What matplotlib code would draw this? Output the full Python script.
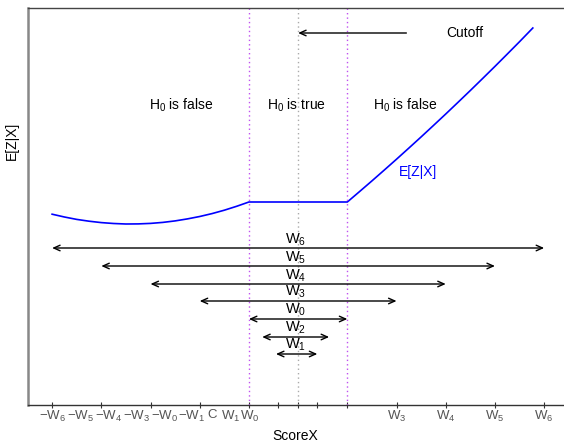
import matplotlib
matplotlib.use("Agg")
import matplotlib.pyplot as plt

plt.rcParams['font.family'] = ['Liberation Sans', 'DejaVu Sans']
plt.rcParams['mathtext.fontset'] = 'custom'
plt.rcParams['mathtext.rm'] = 'Liberation Sans'
plt.rcParams['mathtext.it'] = 'Liberation Sans'
plt.rcParams['mathtext.default'] = 'regular'

# E[Z|X] curve
curve_x = [-5.0, -4.75, -4.5, -4.25, -4.0, -3.75, -3.5, -3.25, -3.0, -2.75,
           -2.5, -2.25, -2.0, -1.75, -1.5, -1.25, -1.0,
           1.0, 1.25, 1.5, 1.75, 2.0, 2.25, 2.5, 2.75, 3.0, 3.25, 3.5,
           3.75, 4.0, 4.25, 4.5, 4.77]
curve_y = [190.8, 188.0, 185.6, 183.8, 182.4, 181.5, 181.0, 181.1, 181.6, 182.6,
           184.1, 186.1, 188.5, 191.4, 194.8, 198.7, 203.0,
           203.0, 213.5, 224.1, 234.9, 245.8, 256.9, 268.1, 279.5, 291.0, 302.7, 314.5,
           326.5, 338.6, 350.9, 363.3, 377.0]

# interval arrows
arrow_names = ['W_6', 'W_5', 'W_4', 'W_3', 'W_0', 'W_2', 'W_1']
arrow_left = [-5, -4, -3, -2, -1, -0.73, -0.45]
arrow_right = [5, 4, 3, 2, 1, 0.63, 0.39]
arrow_y = [157, 139, 121, 104, 86, 68, 51]

# x-axis ticks and labels
tick_pos = [-5, -4, -3, -2, -1, -0.41, 0, 0.39, 1, 2, 3, 4, 5]
label_pos = [-5.0, -4.43, -3.86, -3.29, -2.72, -2.17, -1.75, -1.38, -0.98, 2, 3, 4, 5]
label_txt = [r'$-W_6$', r'$-W_5$', r'$-W_4$', r'$-W_3$', r'$-W_0$', r'$-W_1$', 'C',
             r'$W_1$', r'$W_0$', r'$W_3$', r'$W_4$', r'$W_5$', r'$W_6$']

region_x = [-2.38, -0.04, 2.18]
region_txt = [r'$H_0$ is false', r'$H_0$ is true', r'$H_0$ is false']

fig = plt.figure(figsize=(5.64, 4.42), dpi=100)
ax = fig.add_axes([28/564, 1-405/442, 555.5/564, 397/442])
ax.set_xlim(-5.49, 5.8)
ax.set_ylim(0, 397)

ax.plot(curve_x, curve_y, color='blue', lw=1.2)

for xv in [-1, 1]:
    ax.axvline(xv, color='#c050f0', ls=(0, (1, 2.2)), lw=1.0)
ax.axvline(0, color='#aaaaaa', ls=(0, (1, 2.2)), lw=1.0)

for n, l, r, y in zip(arrow_names, arrow_left, arrow_right, arrow_y):
    ax.annotate('', xy=(r, y), xytext=(l, y),
                arrowprops=dict(arrowstyle='<->,head_length=0.45,head_width=0.2',
                                color='black', lw=1.0, shrinkA=0, shrinkB=0))
    ax.text(-0.06, y + 0.5, r'$' + n + '$', ha='center', va='bottom', fontsize=10.5)

ax.annotate('', xy=(0, 372), xytext=(2.2, 372),
            arrowprops=dict(arrowstyle='->,head_length=0.45,head_width=0.2',
                            color='black', lw=1.0, shrinkA=0, shrinkB=0))
ax.text(3.39, 372, 'Cutoff', ha='center', va='center', fontsize=10)

for xv, t in zip(region_x, region_txt):
    ax.text(xv, 300, t, ha='center', va='center', fontsize=10)

ax.text(2.44, 233, 'E[Z|X]', color='blue', ha='center', va='center', fontsize=10)

ax.set_xticks(tick_pos)
ax.set_xticklabels([''] * len(tick_pos))
ax.tick_params(axis='x', direction='inout', length=4, color='#333333', width=0.8)
ax.set_yticks([])
for xv, t in zip(label_pos, label_txt):
    ax.text(xv, -4, t, ha='center', va='top', fontsize=9.5, color='#555555',
            transform=ax.transData, clip_on=False)

ax.spines['left'].set_color('#888888')
ax.spines['left'].set_linewidth(1.8)
ax.spines['bottom'].set_color('#333333')
ax.spines['bottom'].set_linewidth(1.0)
ax.spines['top'].set_color('#444444')
ax.spines['top'].set_linewidth(1.0)
ax.spines['right'].set_visible(False)

fig.text(295/564, 1-436/442, 'ScoreX', ha='center', va='center', fontsize=10)
fig.text(12/564, 1-141/442, 'E[Z|X]', ha='center', va='center', rotation=90, fontsize=10)

fig.savefig('out.png', dpi=100)
